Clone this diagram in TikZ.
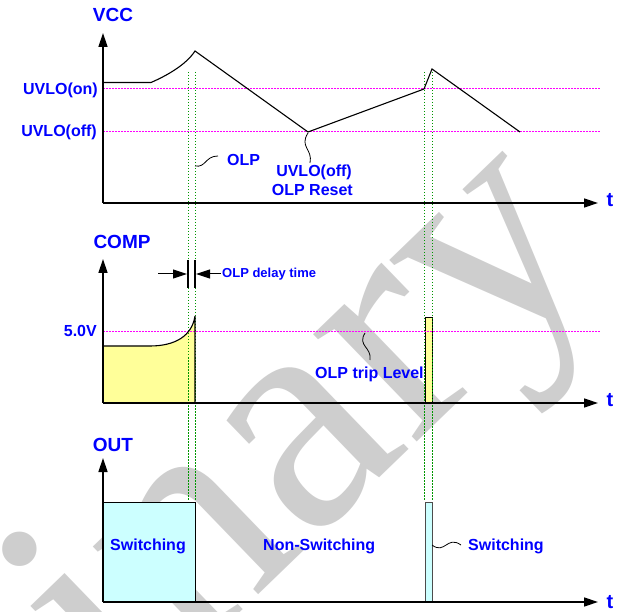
\documentclass[tikz,border=0pt]{standalone}
\usepackage{fontspec}
\setmainfont{Liberation Sans}
\newfontfamily\wmfont{Liberation Serif}
\usetikzlibrary{arrows.meta}
\definecolor{txtblue}{RGB}{0,0,255}
\definecolor{lvlmag}{RGB}{255,0,255}
\definecolor{guidegreen}{RGB}{0,150,0}
\definecolor{fillyel}{RGB}{255,255,153}
\definecolor{fillcyan}{RGB}{204,255,255}
\definecolor{wmgray}{RGB}{206,206,206}
\tikzset{
  axisline/.style={line width=1.4pt, -{Triangle[length=14pt,width=9pt]}},
  wave/.style={line width=1.1pt},
  lvl/.style={draw=lvlmag, line width=1pt, dash pattern=on 1.5pt off 1.5pt},
  guide/.style={draw=guidegreen, line width=0.9pt, dash pattern=on 1.5pt off 1.5pt},
  lbl/.style={text=txtblue, font=\bfseries\fontsize{16}{16}\selectfont, inner sep=0pt},
  ttl/.style={text=txtblue, font=\bfseries\fontsize{19}{19}\selectfont, inner sep=0pt},
  tlbl/.style={text=txtblue, font=\bfseries\fontsize{20}{20}\selectfont, inner sep=0pt},
  small/.style={text=txtblue, font=\bfseries\fontsize{13}{13}\selectfont, inner sep=0pt},
  squig/.style={line width=0.8pt},
  delay/.style={line width=1pt, -{Triangle[length=14pt,width=9pt]}},
  bar/.style={line width=1.5pt}
}
\begin{document}
\begin{tikzpicture}[x=1pt,y=-1pt]
\useasboundingbox (0,0) rectangle (619,612);
% watermark
\begin{scope}
\clip (0,0) rectangle (619,612);
\node[text=wmgray, font=\wmfont\fontsize{325}{325}\selectfont, rotate=44, anchor=base east, inner sep=0pt] (wm) at (607,258) {Preliminary};
\end{scope}

% ---------- coordinates ----------
\coordinate (o1) at (103,203); \coordinate (x1) at (598,203); \coordinate (y1) at (103,33);
\coordinate (o2) at (103,403); \coordinate (x2) at (598,403); \coordinate (y2) at (103,259);
\coordinate (o3) at (103,602); \coordinate (x3) at (598,602); \coordinate (y3) at (103,458);

% ---------- fills ----------
\fill[fillyel] (103,403) -- (103,346) -- (150,346) .. controls (175,346) and (192,336) .. (195,316) -- (195,403) -- cycle;
\filldraw[fill=fillyel, draw=black, line width=0.9pt] (425,317) rectangle (432,403);
\filldraw[fill=fillcyan, draw=black, line width=0.9pt] (103,502) rectangle (195,602);
\filldraw[fill=fillcyan, draw=black!70, line width=1pt] (425,502) rectangle (432,602);

% ---------- level lines ----------
\coordinate (on0) at (103,89); \coordinate (on1) at (600,89);
\coordinate (off0) at (103,132); \coordinate (off1) at (600,132);
\coordinate (v50) at (103,332); \coordinate (v51) at (600,332);
\draw[lvl] (on0) -- (on1);
\draw[lvl] (off0) -- (off1);
\draw[lvl] (v50) -- (v51);

% ---------- guides ----------
\coordinate (ga0) at (188,72); \coordinate (ga1) at (188,500);
\coordinate (gb0) at (195,72); \coordinate (gb1) at (195,500);
\coordinate (gc0) at (424,72); \coordinate (gc1) at (424,500);
\coordinate (gd0) at (432,72); \coordinate (gd1) at (432,500);
\draw[guide] (ga0) -- (ga1);
\draw[guide] (gb0) -- (gb1);
\draw[guide] (gc0) -- (gc1);
\draw[guide] (gd0) -- (gd1);

% ---------- waveforms ----------
\draw[wave] (103,82.5) -- (151,82.5) .. controls (166,76) and (186,65) .. (195,51) -- (308,132) -- (424,89) -- (432,69) -- (520,132);
\draw[wave] (103,346) -- (150,346) .. controls (175,346) and (192,336) .. (195,316) -- (195,403);

% ---------- axes ----------
\draw[axisline] (o1) -- (y1);
\draw[axisline] (o1) -- (x1);
\draw[axisline] (o2) -- (y2);
\draw[axisline] (o2) -- (x2);
\draw[axisline] (o3) -- (y3);
\draw[axisline] (o3) -- (x3);

% ---------- labels ----------
\node[ttl, anchor=base] (vcc) at (113,22) {VCC};
\node[ttl, anchor=base] (comp) at (122,249) {COMP};
\node[ttl, anchor=base] (out) at (113,451) {OUT};
\node[tlbl, anchor=base] (t1) at (610,207) {t};
\node[tlbl, anchor=base] (t2) at (610,407) {t};
\node[tlbl, anchor=base] (t3) at (610,608) {t};
\node[lbl, anchor=base east] (uon) at (98,95) {UVLO(on)};
\node[lbl, anchor=base east] (uoff) at (97,137) {UVLO(off)};
\node[lbl, anchor=base east] (v5) at (97,337) {5.0V};
\node[lbl, anchor=base west] (olp) at (227,166) {OLP};
\node[lbl, anchor=base east] (uoff2) at (352,177) {UVLO(off)};
\node[lbl, anchor=base east] (rst) at (353,196) {OLP Reset};
\node[lbl, anchor=base west] (trip) at (315,379) {OLP trip Level};
\node[lbl, anchor=base] (sw1) at (148,550) {Switching};
\node[lbl, anchor=base west] (nsw) at (263,550) {Non-Switching};
\node[lbl, anchor=base west] (sw2) at (468,550) {Switching};
\node[small, anchor=base west] (dly) at (222,278) {OLP delay time};

% ---------- squiggles ----------
\coordinate (sq1a) at (195,166); \coordinate (sq1b) at (218,156);
\draw[squig] (sq1a) .. controls (206,168) and (205,156) .. (sq1b);
\coordinate (sq2a) at (308,133); \coordinate (sq2b) at (310,163);
\draw[squig] (sq2a) .. controls (299,147) and (313,149) .. (sq2b);
\coordinate (sq3a) at (365,333); \coordinate (sq3b) at (370,360);
\draw[squig] (sq3a) .. controls (357,346) and (372,347) .. (sq3b);
\coordinate (sq4a) at (432,545); \coordinate (sq4b) at (461,545);
\draw[squig] (sq4a) .. controls (445,555) and (447,535) .. (sq4b);

% ---------- delay marker ----------
\coordinate (dl0) at (158,274); \coordinate (dl1) at (187,274);
\coordinate (dr0) at (221,274); \coordinate (dr1) at (196,274);
\coordinate (ba0) at (188,260); \coordinate (ba1) at (188,288);
\coordinate (bb0) at (195,260); \coordinate (bb1) at (195,288);
\draw[delay] (dl0) -- (dl1);
\draw[delay] (dr0) -- (dr1);
\draw[bar] (ba0) -- (ba1);
\draw[bar] (bb0) -- (bb1);
\end{tikzpicture}
\end{document}
